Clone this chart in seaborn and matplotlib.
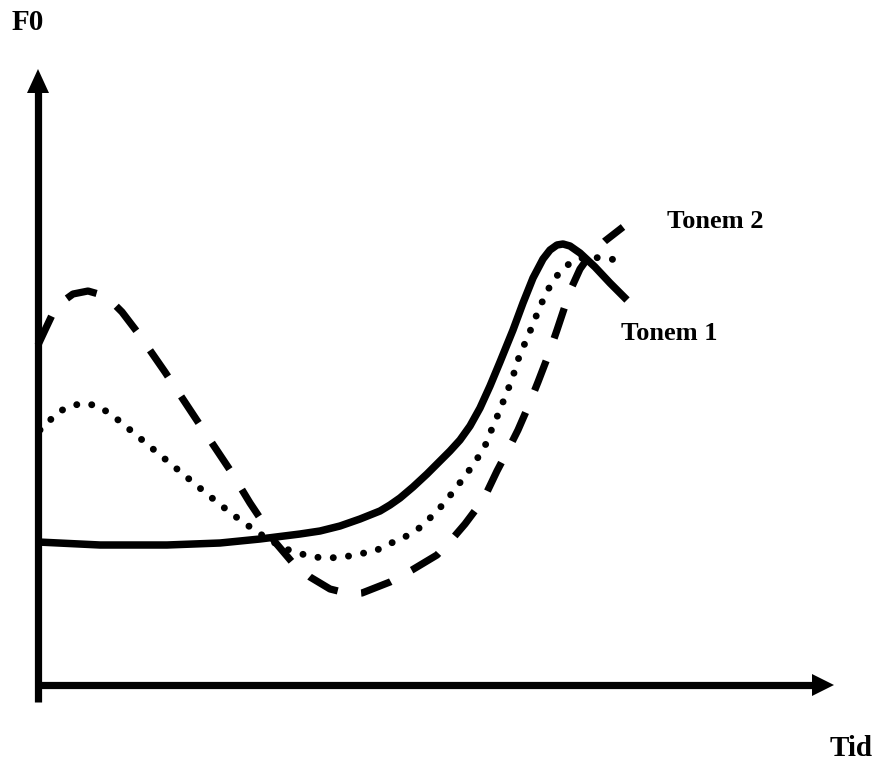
import matplotlib
matplotlib.use("Agg")
import matplotlib.pyplot as plt
import seaborn as sns

# Curve data (time axis = horizontal position, F0 = vertical position, y grows downward)
tid_tonem1 = [38, 100, 167, 220, 260, 300, 320, 340, 360, 380, 390, 400, 413, 427, 440, 450, 460,
              470, 480, 490, 500, 513, 523, 533, 543, 550, 557, 563, 570, 580, 595, 610, 627]
f0_tonem1 = [542, 545, 545, 543, 539, 534, 531, 526, 519, 511, 505, 498, 487, 474, 461, 451, 440,
             426, 408, 386, 362, 330, 303, 278, 259, 250, 245, 244, 246, 253, 267, 283, 300]

tid_tonem2 = [38, 45, 53, 62, 73, 88, 102, 112, 122, 138, 165, 200, 230, 250, 262, 275,
              292, 310, 330, 350, 362, 390, 412, 437, 453, 465, 477, 487, 497, 508, 518,
              528, 538, 548, 557, 564, 570, 580, 590, 605, 623]
f0_tonem2 = [345, 330, 313, 302, 294, 291, 295, 302, 312, 333, 372, 425, 470, 503, 521, 542,
             562, 577, 589, 594, 593, 582, 570, 555, 538, 524, 508, 492, 471, 450, 430,
             407, 382, 356, 330, 309, 291, 269, 255, 241, 227]

tid_dotted = [40, 45, 55, 68, 83, 98, 112, 123, 135, 159, 183, 207, 232, 257, 283, 298,
              313, 328, 344, 359, 375, 389, 403, 417, 428, 439, 449, 459, 468, 477, 485,
              491, 497, 503, 509, 514, 519, 525, 531, 537, 543, 550, 559, 570, 585, 603, 617]
f0_dotted = [430, 427, 414, 407, 403, 406, 415, 424, 434, 454, 474, 494, 514, 532, 548, 553,
             557, 558, 557, 554, 551, 544, 538, 530, 520, 509, 497, 484, 472, 459, 446,
             431, 417, 402, 387, 373, 357, 343, 329, 314, 300, 286, 273, 263, 257, 258, 260]

labels = ["F0", "Tid", "Tonem 1", "Tonem 2"]

sns.set_theme(style="white")
plt.rcParams["font.family"] = ["Liberation Serif", "DejaVu Serif"]
plt.rcParams["text.color"] = "black"

W, H = 877, 760
fig = plt.figure(figsize=(W / 100, H / 100), dpi=100)
ax = fig.add_axes([0, 0, 1, 1])
ax.set_xlim(0, W)
ax.set_ylim(H, 0)
ax.axis("off")

# Axes with arrows
ax.plot([38, 38], [702, 90], color="black", lw=5.2, solid_capstyle="butt")
ax.fill([27, 49, 38], [93, 93, 69], color="black", lw=0)
ax.plot([36, 815], [685, 685], color="black", lw=5.2, solid_capstyle="butt")
ax.fill([812, 812, 834], [674, 696, 685], color="black", lw=0)

# Curves
sns.lineplot(x=tid_tonem1, y=f0_tonem1, sort=False, estimator=None, color="black", ax=ax)
l1 = ax.lines[-1]
l1.set_linewidth(5.4)
l1.set_solid_capstyle("butt")
l1.set_solid_joinstyle("round")

sns.lineplot(x=tid_tonem2, y=f0_tonem2, sort=False, estimator=None, color="black", ax=ax)
l2 = ax.lines[-1]
l2.set_linewidth(5.2)
l2.set_linestyle((0, (4.4, 3.3)))
l2.set_dash_capstyle("butt")
l2.set_dash_joinstyle("round")

sns.lineplot(x=tid_dotted, y=f0_dotted, sort=False, estimator=None, color="black", ax=ax)
l3 = ax.lines[-1]
l3.set_linewidth(5.0)
l3.set_linestyle((0, (0.01, 2.2)))
l3.set_dash_capstyle("round")

# Labels
ax.text(12, 23, labels[0], fontsize=21, fontweight="bold", color="black", ha="left", va="center")
ax.text(830, 748, labels[1], fontsize=21, fontweight="bold", color="black", ha="left", va="center")
ax.text(621, 334, labels[2], fontsize=19, fontweight="bold", color="black", ha="left", va="center")
ax.text(667, 222, labels[3], fontsize=19, fontweight="bold", color="black", ha="left", va="center")

fig.savefig("out.png", dpi=100, facecolor="white")
